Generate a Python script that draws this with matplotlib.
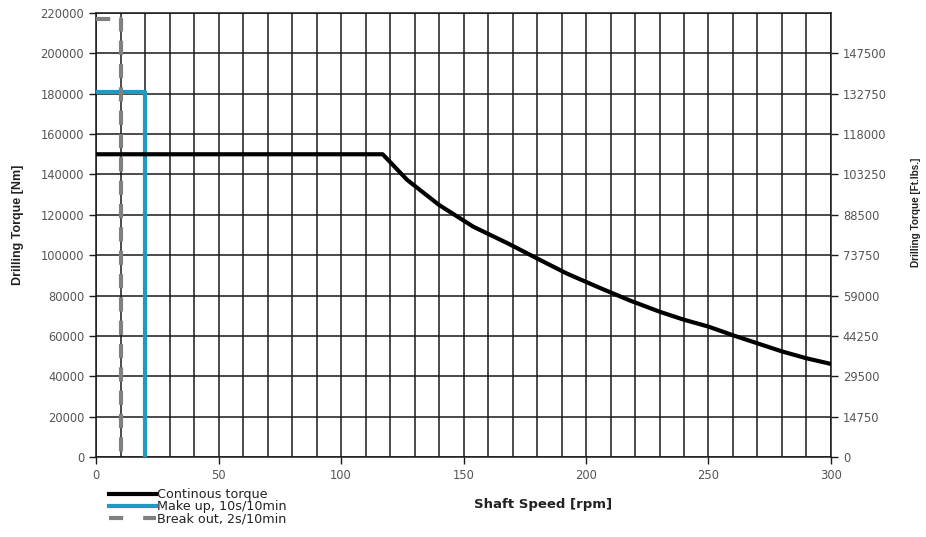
import matplotlib
matplotlib.use("Agg")
import matplotlib.pyplot as plt
from matplotlib.ticker import MultipleLocator, FixedLocator
from matplotlib.lines import Line2D

plt.rcParams['font.family'] = ['DejaVu Sans']

# Data
cont_rpm = [0, 117, 127, 140, 154, 168, 180, 192, 206, 218, 230, 240, 250, 260, 270, 280, 290, 300]
cont_torque = [150000, 150000, 137300, 124900, 114100, 105900, 98400, 91000, 83600, 77500, 72000, 68000, 64600, 60300, 56300, 52300, 48900, 46100]

makeup_rpm = [0, 20, 20]
makeup_torque = [181000, 181000, 0]

breakout_rpm = [0, 10, 10]
breakout_torque = [217000, 217000, 0]

left_ticks = [0, 20000, 40000, 60000, 80000, 100000, 120000, 140000, 160000, 180000, 200000, 220000]
right_tick_labels = ['0', '14750', '29500', '44250', '59000', '73750', '88500', '103250', '118000', '132750', '147500']
x_ticks = [0, 50, 100, 150, 200, 250, 300]

fig = plt.figure(figsize=(9.26, 5.37), dpi=100)
ax = fig.add_axes([0.1037, 0.149, 0.7937, 0.8268])

ax.set_xlim(0, 300)
ax.set_ylim(0, 220000)
ax.xaxis.set_major_locator(FixedLocator(x_ticks))
ax.xaxis.set_minor_locator(MultipleLocator(10))
ax.set_yticks(left_ticks)
ax.set_yticklabels([str(v) for v in left_ticks])

ax.grid(which='both', axis='x', color='#1a1a1a', linewidth=1.1)
ax.grid(which='major', axis='y', color='#1a1a1a', linewidth=1.1)
ax.set_axisbelow(True)

ax.tick_params(axis='both', which='major', labelsize=8.3, colors='#1a1a1a', labelcolor='#555555', length=5, width=1)
ax.tick_params(axis='x', which='minor', length=0)
for s in ax.spines.values():
    s.set_color('#1a1a1a')
    s.set_linewidth(1.1)

l1, = ax.plot(cont_rpm, cont_torque, color='black', linewidth=3, solid_joinstyle='round', zorder=4)
l2, = ax.plot(makeup_rpm, makeup_torque, color='#1E9AC4', linewidth=3, zorder=3)
l3, = ax.plot(breakout_rpm, breakout_torque, color='#808080', linewidth=3, dashes=(3.4, 2.2), zorder=5)

ax2 = ax.twinx()
ax2.set_ylim(0, 220000)
ax2.set_yticks(left_ticks[:-1])
ax2.set_yticklabels(right_tick_labels)
ax2.tick_params(axis='y', labelsize=8.3, colors='#1a1a1a', labelcolor='#555555', length=5, width=1)
for s in ax2.spines.values():
    s.set_visible(False)

fig.text(0.019, 0.581, 'Drilling Torque [Nm]', rotation=90, ha='center', va='center',
         fontsize=9, fontweight='bold', color='#222222', family='Liberation Sans')
fig.text(0.989, 0.605, 'Drilling Torque [Ft.lbs.]', rotation=90, ha='center', va='center',
         fontsize=7.2, fontweight='bold', color='#222222', family='Liberation Sans')
fig.text(0.586, 0.0596, 'Shaft Speed [rpm]', ha='center', va='center', fontsize=9.5,
         fontweight='bold', color='#222222')

h1 = Line2D([], [], color='black', linewidth=3)
h2 = Line2D([], [], color='#1E9AC4', linewidth=3)
h3 = Line2D([], [], color='#808080', linewidth=3, dashes=(3.4, 4.8))
leg = fig.legend(handles=[h1, h2, h3],
                 labels=['Continous torque', 'Make up, 10s/10min', 'Break out, 2s/10min'],
                 loc='upper left', bbox_to_anchor=(0.1177, 0.091),
                 frameon=False, fontsize=9.2, handlelength=3.7, handletextpad=0.08,
                 labelspacing=-0.05, borderaxespad=0, borderpad=0)
for t in leg.get_texts():
    t.set_color('#222222')

fig.savefig('out.png', dpi=100)
